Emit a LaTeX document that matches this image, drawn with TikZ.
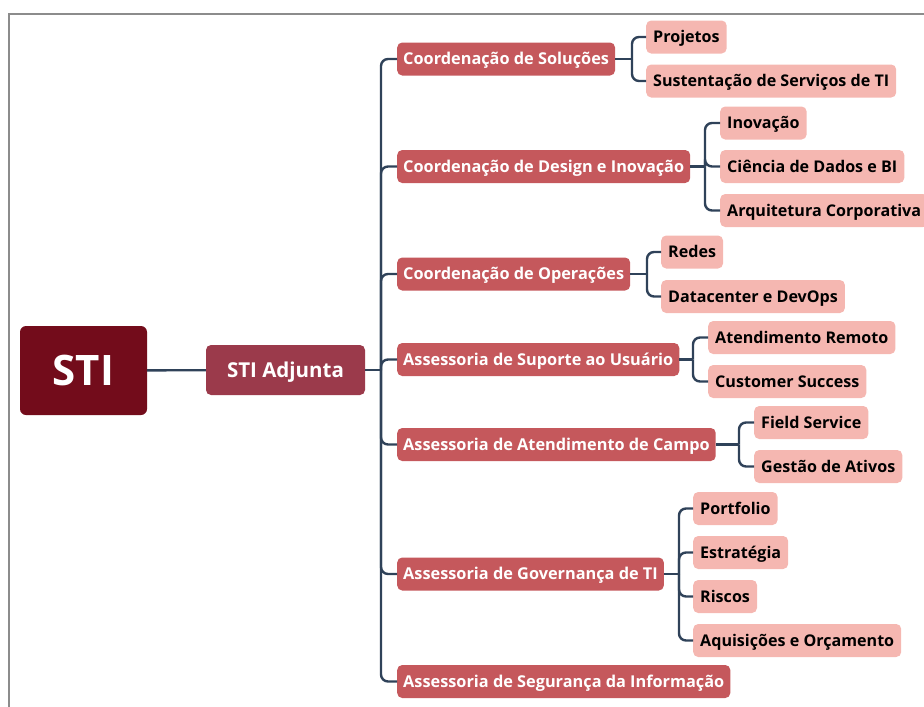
\documentclass[tikz,border=0pt]{standalone}
\usepackage{fontspec}
\setmainfont{Open Sans}
\definecolor{cRoot}{HTML}{730C1B}
\definecolor{cAdj}{HTML}{9B3A4B}
\definecolor{cL2}{HTML}{C5585C}
\definecolor{cL3}{HTML}{F5B7B1}
\definecolor{cConn}{HTML}{2F4259}
\definecolor{cFrame}{HTML}{8C8C8C}
\begin{document}
\begin{tikzpicture}[x=1pt,y=-1pt,
  root/.style={fill=cRoot,text=white,rounded corners=6pt,minimum width=127pt,minimum height=89pt,text height=30pt,text depth=0pt,font=\fontsize{42}{46}\selectfont\bfseries},
  adj/.style={fill=cAdj,text=white,rounded corners=5pt,minimum width=159pt,minimum height=50pt,text height=14.6pt,text depth=0pt,font=\fontsize{20.5}{24}\selectfont\bfseries},
  ltwo/.style={fill=cL2,text=white,rounded corners=5pt,anchor=west,minimum height=33pt,inner xsep=6pt,inner ysep=0pt,text height=11.6pt,text depth=0pt,font=\fontsize{16.3}{19}\selectfont\bfseries},
  lthree/.style={fill=cL3,text=black,rounded corners=5pt,anchor=west,minimum height=33pt,inner xsep=7pt,inner ysep=0pt,text height=11.5pt,text depth=0pt,font=\fontsize{16.1}{19}\selectfont\bfseries},
  conn/.style={draw=cConn,line width=2.4pt},
  rc/.style={rounded corners=7pt},
  frameline/.style={draw=cFrame,line width=1.3pt}]
\useasboundingbox (0,0) rectangle (924,707);
\draw[frameline] (9,707) -- (9,14) -- (924,14);

% main nodes
\node[root] (sti) at (83.5,370.5) {STI};
\node[adj] (adj) at (285.5,370) {STI Adjunta};

% level 2
\node[ltwo] (c1) at (397,59) {Coordenação de Soluções};
\node[ltwo] (c2) at (397,166.5) {Coordenação de Design e Inovação};
\node[ltwo] (c3) at (397,274) {Coordenação de Operações};
\node[ltwo] (c4) at (397,359.5) {Assessoria de Suporte ao Usuário};
\node[ltwo] (c5) at (397,444.5) {Assessoria de Atendimento de Campo};
\node[ltwo] (c6) at (397,574) {Assessoria de Governança de TI};
\node[ltwo] (c7) at (397,681.5) {Assessoria de Segurança da Informação};

% level 3
\node[lthree] (s11) at (646,37) {Projetos};
\node[lthree] (s12) at (646,81) {Sustentação de Serviços de TI};
\node[lthree] (s21) at (720,123) {Inovação};
\node[lthree] (s22) at (720,166.5) {Ciência de Dados e BI};
\node[lthree] (s23) at (720,210.5) {Arquitetura Corporativa};
\node[lthree] (s31) at (661,252) {Redes};
\node[lthree] (s32) at (661,296.5) {Datacenter e DevOps};
\node[lthree] (s41) at (708,337.5) {Atendimento Remoto};
\node[lthree] (s42) at (708,381.5) {Customer Success};
\node[lthree] (s51) at (754,422.5) {Field Service};
\node[lthree] (s52) at (754,466.5) {Gestão de Ativos};
\node[lthree] (s61) at (693,508.5) {Portfolio};
\node[lthree] (s62) at (693,552.5) {Estratégia};
\node[lthree] (s63) at (693,596.5) {Riscos};
\node[lthree] (s64) at (693,640.5) {Aquisições e Orçamento};

% trunk
\coordinate (t) at (381,370);
\draw[conn] (sti) -- (adj);
\draw[conn] (adj.east) -- (t);
\foreach \n in {c1,c2,c3,c4,c5,c6,c7} {\draw[conn,rc] (t) |- (\n.west);}

% branches
\coordinate (b1) at (632,59);
\coordinate (b2) at (705,166.5);
\coordinate (b3) at (647,274);
\coordinate (b4) at (693,359.5);
\coordinate (b5) at (739,444.5);
\coordinate (b6) at (679,574);
\draw[conn] (c1.east) -- (b1);
\draw[conn] (c2.east) -- (b2);
\draw[conn] (c3.east) -- (b3);
\draw[conn] (c4.east) -- (b4);
\draw[conn] (c5.east) -- (b5);
\draw[conn] (c6.east) -- (b6);
\foreach \n in {s11,s12} {\draw[conn,rc] (b1) |- (\n.west);}
\foreach \n in {s21,s22,s23} {\draw[conn,rc] (b2) |- (\n.west);}
\foreach \n in {s31,s32} {\draw[conn,rc] (b3) |- (\n.west);}
\foreach \n in {s41,s42} {\draw[conn,rc] (b4) |- (\n.west);}
\foreach \n in {s51,s52} {\draw[conn,rc] (b5) |- (\n.west);}
\foreach \n in {s61,s62,s63,s64} {\draw[conn,rc] (b6) |- (\n.west);}
\end{tikzpicture}
\end{document}
